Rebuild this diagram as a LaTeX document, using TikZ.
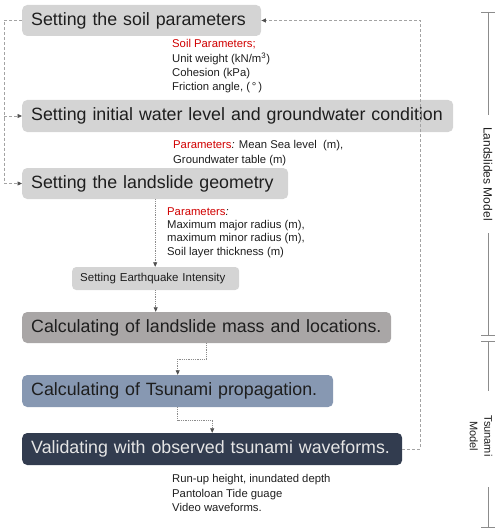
\documentclass[tikz,border=0pt]{standalone}
\usepackage{fontspec}
\setmainfont{Liberation Sans}
\usetikzlibrary{arrows.meta}
\definecolor{boxlight}{HTML}{D4D4D4}
\definecolor{boxmid}{HTML}{A9A6A6}
\definecolor{boxblue}{HTML}{8798B2}
\definecolor{boxdark}{HTML}{323C4F}
\definecolor{redtxt}{HTML}{D00000}
\definecolor{linegray}{HTML}{8C8C8C}
\definecolor{tipgray}{HTML}{505050}
\definecolor{txt}{HTML}{1E1E1E}
\begin{document}
\begin{tikzpicture}[x=1pt,y=-1pt,
  mainbox/.style={rounded corners=5pt, inner xsep=9pt, inner ysep=0pt, anchor=west,
    align=left, text=txt, font=\fontsize{17.8}{21}\selectfont},
  smallbox/.style={rounded corners=4pt, inner xsep=8pt, inner ysep=0pt, anchor=west,
    align=left, text=txt, font=\fontsize{11.5}{13}\selectfont},
  note/.style={anchor=north west, inner sep=0pt, align=left, text=txt,
    font=\fontsize{11.3}{14.2}\selectfont},
  flow/.style={draw=linegray, line width=0.7pt, dash pattern=on 0.9pt off 0.9pt,
    -{Triangle[length=4.5pt,width=4pt,color=tipgray]}},
  fb/.style={draw=linegray!80, line width=0.7pt, dash pattern=on 3pt off 2pt,
    -{Triangle[length=4.5pt,width=4pt,color=tipgray]}},
  fbline/.style={draw=linegray!80, line width=0.7pt, dash pattern=on 3pt off 2pt},
  side/.style={draw=linegray, line width=0.8pt},
]
\useasboundingbox (0,0) rectangle (500,532);

% boxes
\node[mainbox, fill=boxlight, text width=221pt, minimum height=31pt] (b1) at (22,20.5)
  {\mbox{Setting the soil parameters}};
\node[mainbox, fill=boxlight, text width=413pt, minimum height=32pt] (b2) at (22,116)
  {\mbox{Setting initial water level and groundwater condition}};
\node[mainbox, fill=boxlight, text width=248pt, minimum height=31pt] (b3) at (22,183.5)
  {\mbox{Setting the landslide geometry}};
\node[smallbox, fill=boxlight, text width=151pt, minimum height=23pt] (eq) at (72,278.5)
  {\mbox{Setting Earthquake Intensity}};
\node[mainbox, fill=boxmid, text width=351pt, minimum height=31pt] (calc) at (22,327.5)
  {\mbox{Calculating of landslide mass and locations.}};
\node[mainbox, fill=boxblue, text width=293pt, minimum height=32pt] (tsu) at (22,391)
  {\mbox{Calculating of Tsunami propagation.}};
\node[mainbox, fill=boxdark, text=white!90!black, text width=362pt, minimum height=32pt] (val) at (22,449)
  {\mbox{Validating with observed tsunami waveforms.}};

% notes
\node[note] (n1) at (172,39.5) {{\color{redtxt}Soil Parameters;}\\
  Unit weight (kN/m\textsuperscript{3})\\ Cohesion (kPa)\\ Friction angle, (\,°\,)};
\node[note] (n2) at (173,140.5) {{\color{redtxt}Parameters}\textit{:} Mean Sea level\ \ (m),\\
  Groundwater table (m)};
\node[note, font=\fontsize{11.3}{13.2}\selectfont] (n3) at (167,207.5) {{\color{redtxt}Parameters}\textit{:}\\
  Maximum major radius (m),\\ maximum minor radius (m),\\ Soil layer thickness (m)};
\node[note, font=\fontsize{11.3}{14.4}\selectfont] (n4) at (172,474.5) {Run-up height, inundated depth\\
  Pantoloan Tide guage\\ Video waveforms.};

% flow connectors
\draw[flow] (b3.south) -- (b3.south |- eq.north);
\draw[flow] (eq.south) -- (eq.south |- calc.north);
\draw[flow] (calc.south) -- ++(0,16) -| (tsu.north);
\draw[flow] (tsu.south) -- ++(0,13) -| (val.north);

% feedback loops
\draw[fb] (val.east) -- ++(18,0) |- (b1.east);
\draw[fbline] (b1.west) -- ++(-18,0) coordinate (L) -- (L |- b3.west);
\draw[fb] (L |- b3.west) -- (b3.west);
\draw[fb] (L |- b2.west) -- (b2.west);

% side brackets
\node[rotate=-90, inner sep=0pt, text=txt, font=\fontsize{12}{14}\selectfont] (lm) at (488,174) {Landslides Model};
\node[rotate=-90, inner sep=0pt, align=center, text=txt, font=\fontsize{11}{14.5}\selectfont] (tm) at (481,436) {Tsunami\\Model};
\draw[side] (481,12) -- (495,12);
\draw[side] (488,12) -- (488,115);
\draw[side] (488,233) -- (488,335);
\draw[side] (481,335) -- (495,335);
\draw[side] (481,341) -- (495,341);
\draw[side] (488,341) -- (488,391);
\draw[side] (488,487) -- (488,527);
\draw[side] (481,527) -- (495,527);
\end{tikzpicture}
\end{document}
